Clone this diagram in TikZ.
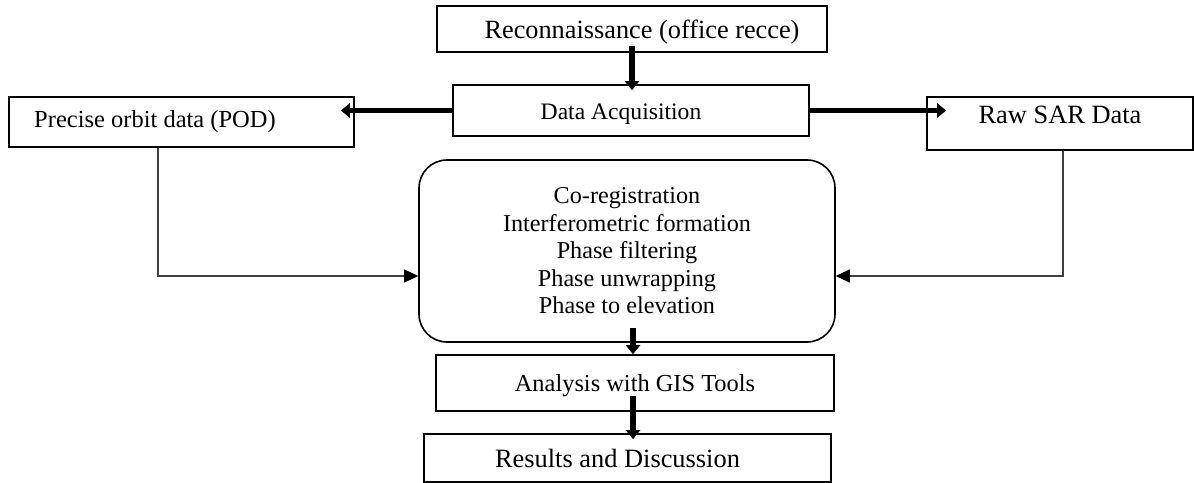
\documentclass[tikz,border=0pt]{standalone}
\usepackage{fontspec}
\setmainfont{Liberation Serif}
\usetikzlibrary{arrows.meta}

\newcommand{\fsz}[2]{\fontsize{#1bp}{#2bp}\selectfont}

\begin{document}
\begin{tikzpicture}[x=1bp,y=-1bp,
  frame/.style={draw=black, line width=1.6bp, inner sep=0pt, anchor=center},
  bigarrow/.style={line width=5.5bp, -{Triangle[length=9bp, width=14bp]}},
  link/.style={draw=black!75, line width=1.1bp, -{Triangle[length=14bp, width=13bp, fill=black, color=black]}}]

\useasboundingbox (0,0) rectangle (1194,483);

% boxes
\node[frame, minimum width=390bp, minimum height=46bp, font=\fsz{26.3}{30},
  text height=24.3bp, text depth=4.7bp] (recon) at (632,29)
  {\hspace*{20bp}Reconnaissance (office recce)};
\node[frame, minimum width=356bp, minimum height=51bp, font=\fsz{23.6}{27},
  text height=22.3bp, text depth=5.1bp] (acq) at (631,110.5)
  {Data Acquisition\hspace*{20bp}};
\node[frame, minimum width=345bp, minimum height=50bp, font=\fsz{24.5}{28}] (pod) at (181.5,122)
  {Precise orbit data (POD)\hspace*{53bp}};
\node[frame, minimum width=266bp, minimum height=53bp, font=\fsz{26.4}{30}] (raw) at (1060,123.5)
  {\raisebox{0pt}[0pt][0pt]{Raw SAR Data}};
\node[frame, rounded corners=28bp, minimum width=416bp, minimum height=182bp, align=center,
  font=\fsz{24.2}{27.5}] (proc) at (627,251)
  {Co-registration\\Interferometric formation\\Phase filtering\\Phase unwrapping\\Phase to elevation};
\node[frame, minimum width=398bp, minimum height=56bp, font=\fsz{24.4}{28},
  text height=22.8bp, text depth=5.3bp] (gis) at (635,383)
  {Analysis with GIS Tools};
\node[frame, minimum width=407bp, minimum height=48bp, font=\fsz{26.4}{30}] (res) at (627.5,458)
  {Results and Discussion\hspace*{20bp}};

% main flow
\draw[bigarrow, shorten <=-7bp, shorten >=-6bp] (recon.south) -- (recon.south |- acq.north);
\draw[bigarrow, shorten >=-14bp] (acq.west) -- (acq.west -| pod.east);
\draw[bigarrow, shorten >=-20bp] (acq.east) -- (acq.east -| raw.west);
\draw[bigarrow, shorten <=-15bp] ([xshift=-2bp]proc.south -| gis.north) -- ([xshift=-2bp]gis.north);
\draw[bigarrow, shorten <=-16bp, shorten >=-6bp] ([xshift=-2bp]gis.south) -- ([xshift=-2bp]gis.south |- res.north);

% inputs to the processing chain
\draw[link] ([xshift=-23.5bp]pod.south) |- ([yshift=-25bp]proc.west);
\draw[link] ([xshift=3bp]raw.south) |- ([yshift=-25bp]proc.east);

\end{tikzpicture}
\end{document}
